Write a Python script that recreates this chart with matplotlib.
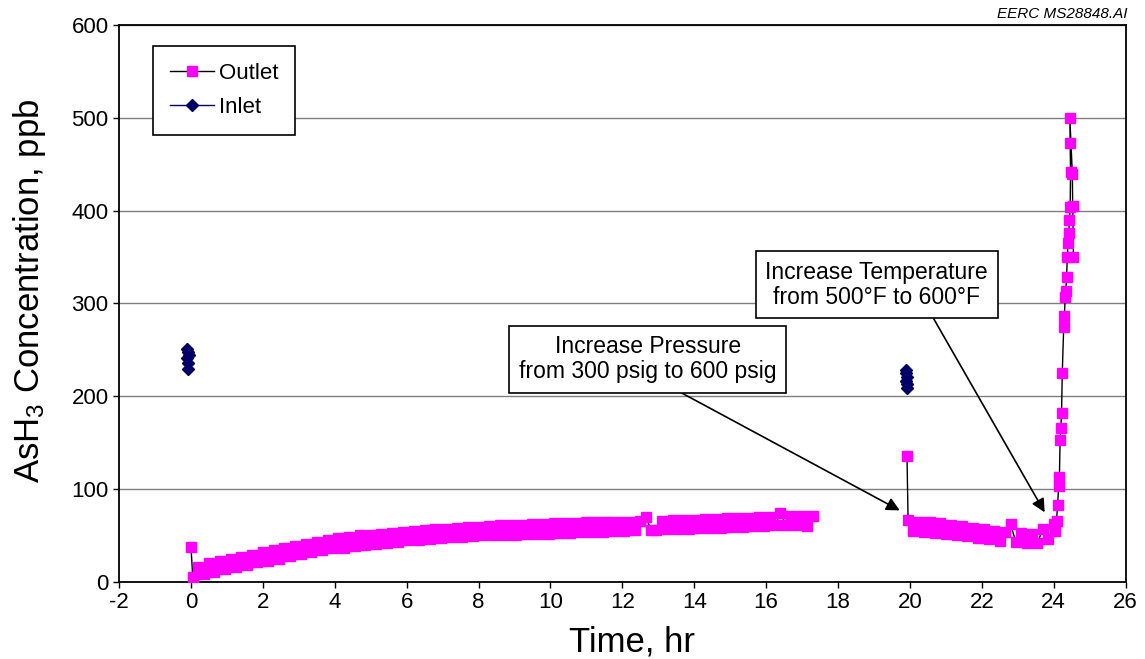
import numpy as np
import matplotlib
matplotlib.use("Agg")
import matplotlib.pyplot as plt

plt.rcParams['font.family'] = ['Liberation Sans', 'DejaVu Sans']
plt.rcParams['mathtext.fontset'] = 'custom'
plt.rcParams['mathtext.rm'] = 'Liberation Sans'
plt.rcParams['mathtext.it'] = 'Liberation Sans:italic'

# ---------------- data ----------------
# Outlet, first run: start point then samples every 0.15 hr from t=0.05
outlet_start_t = [0.0]
outlet_start_v = [38]
outlet_v1 = [5, 16, 8, 20, 11, 23, 14, 25, 16, 27, 18, 29, 21, 32, 23, 34, 25, 36, 28, 39,
             30, 41, 32, 43, 34, 45, 36, 47, 37, 48, 39, 50, 40, 51, 41, 52, 42, 53, 43, 54,
             45, 55, 45, 56, 46, 57, 47, 57, 48, 58, 48, 59, 49, 59, 50, 60, 50, 61, 51, 61,
             51, 61, 52, 62, 52, 62, 52, 63, 53, 63, 53, 63, 54, 64, 54, 64, 54, 65, 55, 65,
             55, 65, 56, 66, 70, 56, 56, 66, 57, 67, 57, 67, 57, 67, 58, 68, 58, 68, 58, 69,
             59, 69, 59, 69, 60, 70, 60, 70, 61, 74, 61, 71, 61, 71, 60, 71]
outlet_t1_start, outlet_t1_step = 0.05, 0.15

# Outlet, second run: pressure-step spike, samples every 0.15 hr from 19.95, then breakthrough
outlet_spike_t = [19.92]
outlet_spike_v = [136]
outlet_v2 = [67, 55, 65, 54, 64, 53, 63, 52, 61, 50, 60, 49, 58, 47, 57, 46, 55, 44, 54, 62,
             43, 53, 42, 52, 42, 57, 46, 62]
outlet_t2_start, outlet_t2_step = 19.95, 0.15
outlet_break_t = [24.04, 24.08, 24.11, 24.14, 24.16, 24.18, 24.20, 24.22, 24.24, 24.28, 24.30,
                  24.32, 24.34, 24.36, 24.38, 24.40, 24.42, 24.44, 24.46, 24.47, 24.46, 24.45,
                  24.52, 24.53, 24.55]
outlet_break_v = [55, 66, 83, 103, 113, 153, 166, 182, 225, 275, 286, 307, 313, 329, 350, 365,
                  376, 390, 404, 442, 473, 500, 440, 405, 350]

# Inlet samples
inlet_t1 = [-0.10, -0.08, -0.06, -0.10, -0.08, -0.07]
inlet_v1 = [251, 248, 245, 241, 236, 229]
inlet_t2 = [19.88, 19.90, 19.92, 19.89, 19.91, 19.93]
inlet_v2 = [228, 225, 221, 217, 213, 209]

x_ticks = list(range(-2, 27, 2))
y_ticks = [0, 100, 200, 300, 400, 500, 600]

# ---------------- assemble series ----------------
t1 = outlet_t1_start + outlet_t1_step * np.arange(len(outlet_v1))
t2 = outlet_t2_start + outlet_t2_step * np.arange(len(outlet_v2))
out_t = np.concatenate([outlet_start_t, t1, [np.nan], outlet_spike_t, t2, outlet_break_t])
out_v = np.concatenate([outlet_start_v, outlet_v1, [np.nan], outlet_spike_v, outlet_v2, outlet_break_v])
in_t = np.concatenate([inlet_t1, [np.nan], inlet_t2])
in_v = np.concatenate([inlet_v1, [np.nan], inlet_v2])

# ---------------- figure ----------------
fig = plt.figure(figsize=(11.45, 6.59), dpi=100)
ax = fig.add_axes([0.104, 0.117, 0.879, 0.845])

ax.yaxis.grid(True, color='#7f7f7f', lw=1.0)
ax.set_axisbelow(True)

ax.plot(out_t, out_v, color='black', lw=1.0, marker='s', markersize=7.6,
        markerfacecolor='#ff00ff', markeredgecolor='#ff00ff', label='Outlet', zorder=3)
ax.plot(in_t, in_v, color='#000066', lw=1.0, marker='D', markersize=6,
        markerfacecolor='#000066', markeredgecolor='#000066', label='Inlet', zorder=3)

ax.set_xlim(-2, 26)
ax.set_ylim(0, 600)
ax.set_xticks(x_ticks)
ax.set_yticks(y_ticks)
ax.set_xticklabels([str(v) for v in x_ticks],
                   fontdict={'family': ['Liberation Sans Narrow', 'Liberation Sans'], 'size': 16})
ax.tick_params(axis='y', labelsize=16, direction='out', length=4, width=1)
ax.tick_params(axis='x', direction='out', length=4, width=1)
for s in ax.spines.values():
    s.set_linewidth(1.3)
    s.set_color('black')

ax.set_xlabel('Time, hr', fontsize=25)
ax.xaxis.set_label_coords(0.51, -0.078)
ax.set_ylabel('AsH$_3$ Concentration, ppb', fontsize=25)
ax.yaxis.set_label_coords(-0.071, 0.522)

leg = ax.legend(loc='upper left', bbox_to_anchor=(0.034, 0.962), borderaxespad=0, fontsize=16,
                frameon=True, fancybox=False, edgecolor='black', framealpha=1,
                handlelength=2.0, handletextpad=0.2, borderpad=0.75, labelspacing=0.6)
leg.get_frame().set_linewidth(1.2)

arrow_kw = dict(arrowstyle='-|>', color='black', lw=1.2, mutation_scale=20, shrinkA=0, shrinkB=0)
ax.annotate('Increase Pressure\nfrom 300 psig to 600 psig', xy=(19.72, 77), xytext=(12.71, 240),
            ha='center', va='center', fontsize=16.5, linespacing=1.1,
            bbox=dict(boxstyle='square,pad=0.42', fc='white', ec='black', lw=1.2),
            arrowprops=dict(relpos=(0.56, 0.0), **arrow_kw), zorder=5)
ax.annotate('Increase Temperature\nfrom 500°F to 600°F', xy=(23.75, 75), xytext=(19.08, 320),
            ha='center', va='center', fontsize=16.5, linespacing=1.1,
            bbox=dict(boxstyle='square,pad=0.42', fc='white', ec='black', lw=1.2),
            arrowprops=dict(relpos=(0.73, 0.0), **arrow_kw), zorder=5)

fig.text(0.985, 0.978, 'EERC MS28848.AI', ha='right', va='center', fontsize=11, style='italic')

fig.savefig('out.png', dpi=100)
